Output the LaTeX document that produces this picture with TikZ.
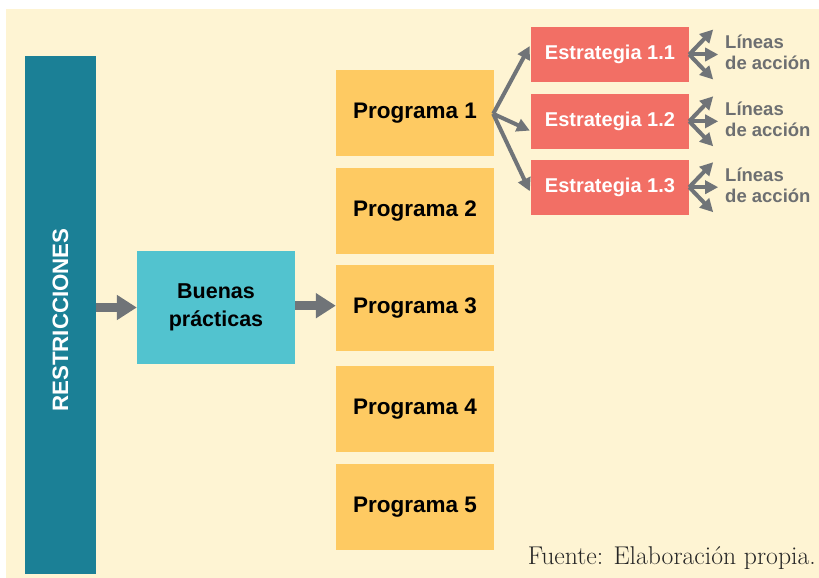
\documentclass[tikz,border=0pt]{standalone}
\usepackage{fontspec}
\usetikzlibrary{arrows.meta,calc}
\newfontfamily\gothic{Liberation Sans}
\definecolor{fondo}{HTML}{FEF4D3}
\definecolor{azul}{HTML}{1B8096}
\definecolor{celeste}{HTML}{52C3CF}
\definecolor{amarillo}{HTML}{FECA62}
\definecolor{coral}{HTML}{F26F65}
\definecolor{gris}{HTML}{707478}
\definecolor{grislinea}{HTML}{6D6F71}
\tikzset{
  programa/.style={fill=amarillo, minimum width=158pt, minimum height=86pt, inner sep=0pt,
    font=\gothic\bfseries\fontsize{22.5}{28}\selectfont},
  estrategia/.style={fill=coral, text=white, minimum width=158pt, minimum height=55pt, inner sep=0pt,
    font=\gothic\bfseries\fontsize{20}{24}\selectfont},
  lineas/.style={text=grislinea, anchor=west, inner sep=0pt, align=left,
    font=\gothic\bfseries\fontsize{18.5}{21}\selectfont},
  flecha/.style={gris, line width=4pt, -{Triangle[length=13pt,width=13pt]}},
  flechagruesa/.style={gris, line width=9pt, -{Triangle[length=20pt,width=24pt]}}
}
\begin{document}
\begin{tikzpicture}[x=1pt, y=-1pt]
    \useasboundingbox (0,0) rectangle (819,578);
    \fill[fondo] (6,9) rectangle (819,578);

    \node[fill=azul, minimum width=71pt, minimum height=518pt, inner sep=0pt] (restr) at (60.5,315) {};
    \node[rotate=90, text=white, font=\gothic\bfseries\fontsize{22.3}{24}\selectfont] (restrtxt) at (60.5,320) {RESTRICCIONES};

    \node[fill=celeste, minimum width=158pt, minimum height=113pt, inner sep=0pt, align=center,
      font=\gothic\bfseries\fontsize{21.5}{28}\selectfont] (buenas) at (216,307.5) {Buenas\\prácticas};

    \node[programa] (p1) at (415,112.8) {Programa 1};
    \node[programa] (p2) at (415,210.8) {Programa 2};
    \node[programa] (p3) at (415,307.7) {Programa 3};
    \node[programa] (p4) at (415,408.8) {Programa 4};
    \node[programa] (p5) at (415,506.7) {Programa 5};

    \node[estrategia] (e11) at (610,54.5) {Estrategia 1.1};
    \node[estrategia] (e12) at (610,121.3) {Estrategia 1.2};
    \node[estrategia] (e13) at (610,187.2) {Estrategia 1.3};

    \draw[flechagruesa] (restr.east |- buenas) -- (buenas.west);
    \draw[flechagruesa] ([yshift=1.8pt]buenas.east) -- ([yshift=1.8pt]buenas.east -| p3.west);

    \draw[flecha] ([xshift=-1pt,yshift=-1pt]p1.east) -- ([xshift=-1pt,yshift=8.5pt]e11.west);
    \draw[flecha] ([xshift=-1pt,yshift=-1pt]p1.east) -- ([xshift=-1pt,yshift=-9.3pt]e12.west);
    \draw[flecha] ([xshift=-1pt,yshift=-1pt]p1.east) -- ([xshift=-1pt,yshift=-4pt]e13.west);

    \coordinate (a11) at ($(e11.east)+(24,-25)$);
    \coordinate (b11) at ($(e11.east)+(29,0)$);
    \coordinate (c11) at ($(e11.east)+(24,25)$);
    \coordinate (a12) at ($(e12.east)+(24,-25)$);
    \coordinate (b12) at ($(e12.east)+(29,0)$);
    \coordinate (c12) at ($(e12.east)+(24,25)$);
    \coordinate (a13) at ($(e13.east)+(24,-25)$);
    \coordinate (b13) at ($(e13.east)+(29,0)$);
    \coordinate (c13) at ($(e13.east)+(24,25)$);

    \draw[flecha] (e11.east) -- (a11);
    \draw[flecha] (e11.east) -- (b11);
    \draw[flecha] (e11.east) -- (c11);
    \draw[flecha] (e12.east) -- (a12);
    \draw[flecha] (e12.east) -- (b12);
    \draw[flecha] (e12.east) -- (c12);
    \draw[flecha] (e13.east) -- (a13);
    \draw[flecha] (e13.east) -- (b13);
    \draw[flecha] (e13.east) -- (c13);

    \node[lineas] (l11) at (725,52.5) {Líneas\\de acción};
    \node[lineas] (l12) at (725,119.3) {Líneas\\de acción};
    \node[lineas] (l13) at (725,185.2) {Líneas\\de acción};

    \node[anchor=base east, inner sep=0pt, text=black!85, font=\fontsize{25.7}{28}\selectfont] (fuente) at (816,564) {Fuente: Elaboración propia.};
\end{tikzpicture}
\end{document}
